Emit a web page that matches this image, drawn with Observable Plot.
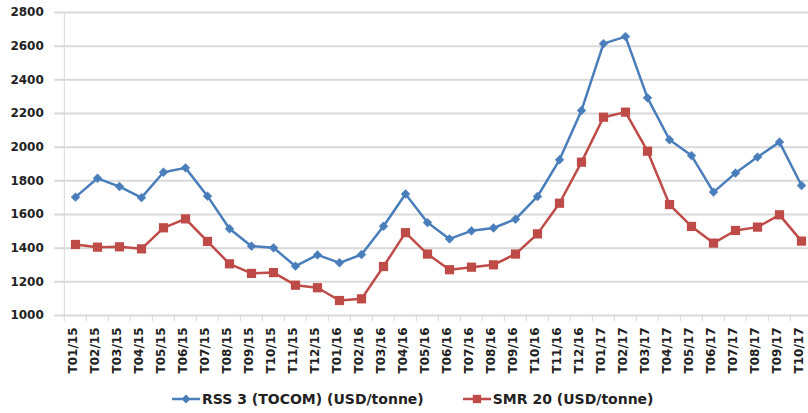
<!DOCTYPE html>
<html>
<head>
<meta charset="utf-8">
<script src="https://cdn.jsdelivr.net/npm/d3@7"></script>
<script src="https://cdn.jsdelivr.net/npm/@observablehq/plot@0.6"></script>
<style>
  html, body { margin: 0; padding: 0; background: #fff; width: 808px; height: 413px; overflow: hidden; }
  #chart svg { display: block; overflow: hidden; }
  #legend { height: 28px; display: flex; align-items: center; padding-left: 172px;
            font-family: "DejaVu Sans", sans-serif; font-weight: bold; font-size: 14px; color: #222; }
  #legend .item { display: flex; align-items: center; }
  #legend svg { display: block; margin-right: 2px; }
  #legend .item + .item { margin-left: 39px; }
</style>
</head>
<body>
<div id="chart"></div>
<div id="legend"></div>
<script>
const months = [
  "T01/15","T02/15","T03/15","T04/15","T05/15","T06/15","T07/15","T08/15","T09/15","T10/15","T11/15","T12/15",
  "T01/16","T02/16","T03/16","T04/16","T05/16","T06/16","T07/16","T08/16","T09/16","T10/16","T11/16","T12/16",
  "T01/17","T02/17","T03/17","T04/17","T05/17","T06/17","T07/17","T08/17","T09/17","T10/17"
];
const rss = [1703, 1815, 1766, 1700, 1851, 1877, 1709, 1515, 1412, 1402, 1293, 1360,
             1313, 1362, 1530, 1722, 1552, 1455, 1503, 1520, 1572, 1707, 1925, 2218,
             2615, 2657, 2293, 2044, 1950, 1733, 1846, 1941, 2030, 1772];
const smr = [1422, 1406, 1408, 1396, 1521, 1574, 1440, 1307, 1250, 1255, 1180, 1165,
             1089, 1099, 1291, 1492, 1365, 1272, 1287, 1301, 1365, 1485, 1667, 1911,
             2178, 2208, 1976, 1659, 1529, 1430, 1505, 1525, 1598, 1442];
const yTicks = [1000, 1200, 1400, 1600, 1800, 2000, 2200, 2400, 2600, 2800];
const seriesNames = ["RSS 3 (TOCOM) (USD/tonne)", "SMR 20 (USD/tonne)"];

const BLUE = "#4A7EBB", RED = "#BE4B48", GRID = "#d9d9d9";
const xRange = [59.3, 817.3];
const step = (xRange[1] - xRange[0]) / months.length;

const data = months.map((m, i) => ({month: m, rss: rss[i], smr: smr[i]}));

const chart = Plot.plot({
  width: 808,
  height: 385,
  marginTop: 12,
  marginBottom: 70,
  marginLeft: 59.3,
  marginRight: 0,
  style: {fontFamily: "DejaVu Sans, sans-serif", color: "#222", background: "#fff"},
  x: {type: "point", domain: months, range: xRange, padding: 0.5, label: null},
  y: {domain: [1000, 2800], label: null},
  marks: [
    Plot.ruleY(yTicks, {stroke: GRID, strokeWidth: 2, insetLeft: -5}),
    Plot.ruleX([months[0]], {dx: -step / 2, stroke: GRID, strokeWidth: 1}),
    Plot.axisX({tickSize: 6, tickFormat: () => "", dx: -step / 2, stroke: GRID, label: null}),
    Plot.axisX({tickSize: 0, tickRotate: -90, tickPadding: 12, fontSize: 12, fontWeight: "bold",
                fill: "#222", dx: -2, label: null}),
    Plot.axisY({ticks: yTicks, tickSize: 0, tickPadding: 16, fontSize: 12, fontWeight: "bold",
                fill: "#222", tickFormat: d => String(d), label: null}),
    Plot.line(data, {x: "month", y: "rss", stroke: BLUE, strokeWidth: 2.5}),
    Plot.dot(data, {x: "month", y: "rss", symbol: "diamond2", r: 4, fill: BLUE, stroke: BLUE, strokeWidth: 0.5}),
    Plot.line(data, {x: "month", y: "smr", stroke: RED, strokeWidth: 2.5}),
    Plot.dot(data, {x: "month", y: "smr", symbol: "square", r: 5.2, fill: RED, stroke: "none"})
  ]
});
document.getElementById("chart").append(chart);

// HTML legend
const legend = d3.select("#legend");
const items = [
  {name: seriesNames[0], color: BLUE, symbol: d3.symbolDiamond2, size: 50},
  {name: seriesNames[1], color: RED, symbol: d3.symbolSquare, size: 70}
];
for (const it of items) {
  const div = legend.append("div").attr("class", "item");
  const svg = div.append("svg").attr("width", 28).attr("height", 14);
  svg.append("line").attr("x1", 0).attr("x2", 28).attr("y1", 7).attr("y2", 7)
     .attr("stroke", it.color).attr("stroke-width", 2.5);
  svg.append("path").attr("d", d3.symbol().type(it.symbol).size(it.size)())
     .attr("transform", "translate(14,7)").attr("fill", it.color);
  div.append("span").text(it.name);
}
</script>
</body>
</html>
